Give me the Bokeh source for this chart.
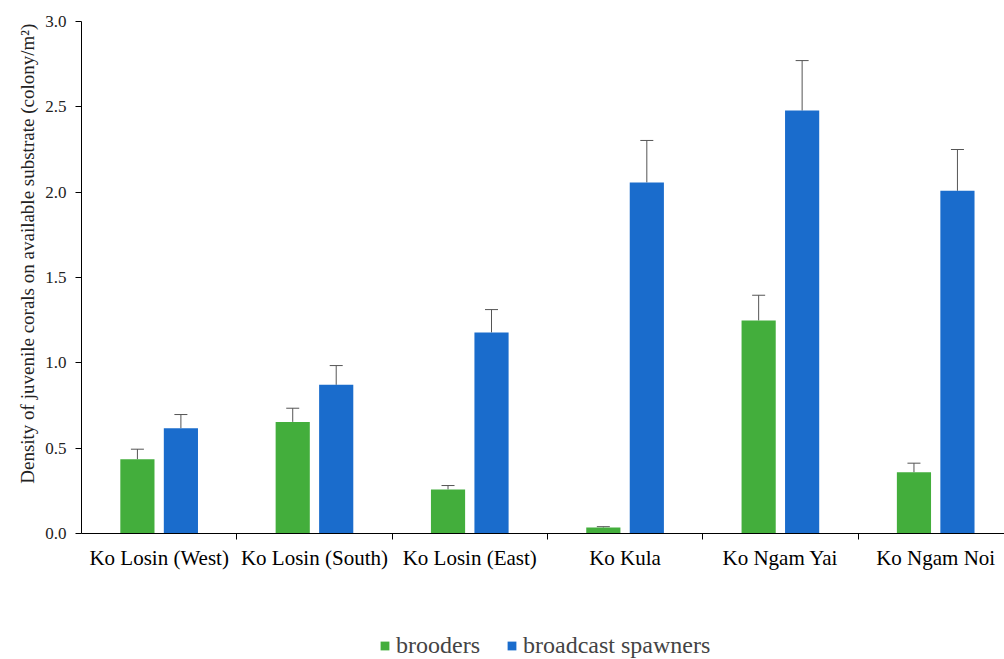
from bokeh.plotting import figure
from bokeh.models import (ColumnDataSource, Range1d, FixedTicker, Whisker, TeeHead, Legend,
                          LegendItem)
from bokeh.layouts import column
from bokeh.transform import dodge
from bokeh.embed import file_html
from bokeh.resources import INLINE

sites = ["Ko Losin (West)", "Ko Losin (South)", "Ko Losin (East)", "Ko Kula", "Ko Ngam Yai", "Ko Ngam Noi"]
brooders = [0.435, 0.654, 0.258, 0.035, 1.248, 0.359]
brooders_err = [0.059, 0.080, 0.023, 0.005, 0.148, 0.053]
spawners = [0.617, 0.871, 1.178, 2.057, 2.478, 2.008]
spawners_err = [0.080, 0.113, 0.134, 0.246, 0.293, 0.242]
series_names = ["brooders", "broadcast spawners"]
y_ticks = [0.0, 0.5, 1.0, 1.5, 2.0, 2.5, 3.0]

idx = list(range(len(sites)))
src = ColumnDataSource(dict(
    x=idx,
    b=brooders, bu=[v + e for v, e in zip(brooders, brooders_err)],
    s=spawners, su=[v + e for v, e in zip(spawners, spawners_err)],
))

FONT = "Liberation Serif"
GREEN = "#43AE3C"
BLUE = "#1A6CCC"

p = figure(width=1004, height=596, output_backend="svg", toolbar_location=None,
           x_range=Range1d(-0.5, 5.443), y_range=Range1d(0, 3.0),
           min_border_left=81, min_border_top=21, min_border_bottom=63, min_border_right=0)
p.outline_line_color = None
p.xgrid.visible = False
p.ygrid.visible = False
p.background_fill_color = "white"

W = 0.22
OFF = 0.14
rb = p.vbar(x=dodge("x", -OFF), top="b", width=W, bottom=0, source=src, fill_color=GREEN, line_color=None)
rs = p.vbar(x=dodge("x", OFF), top="s", width=W, bottom=0, source=src, fill_color=BLUE, line_color=None)

for col, colu, off in (("b", "bu", -OFF), ("s", "su", OFF)):
    w = Whisker(base=dodge("x", off), lower=col, upper=colu, source=src, dimension="height",
                line_color="#555555", line_width=1,
                upper_head=TeeHead(size=13, line_color="#555555", line_width=1), lower_head=None)
    p.add_layout(w)

# x axis
xa = p.xaxis[0]
xa.ticker = FixedTicker(ticks=idx, minor_ticks=[i + 0.5 for i in idx[:-1]])
xa.major_label_overrides = {i: s for i, s in zip(idx, sites)}
xa.major_tick_out = 0
xa.major_tick_in = 0
xa.minor_tick_out = 6
xa.minor_tick_in = 0
xa.minor_tick_line_color = "black"
xa.axis_line_color = "black"
xa.major_label_text_font = FONT
xa.major_label_text_font_size = "21px"
xa.major_label_text_color = "black"
xa.major_label_standoff = 6

ya = p.yaxis[0]
ya.ticker = FixedTicker(ticks=y_ticks)
ya.major_label_overrides = {t: f"{t:.1f}" for t in y_ticks}
ya.minor_tick_line_color = None
ya.major_tick_out = 6
ya.major_tick_in = 0
ya.axis_line_color = "black"
ya.major_tick_line_color = "black"
ya.major_label_text_font = FONT
ya.major_label_text_font_size = "17px"
ya.major_label_text_color = "#222222"
ya.major_label_standoff = 9
ya.axis_label = "\u00a0" * 10 + "Density of juvenile corals on available substrate (colony/m²)"
ya.axis_label_text_font = FONT
ya.axis_label_text_font_size = "19px"
ya.axis_label_text_font_style = "normal"
ya.axis_label_text_color = "#222222"
ya.axis_label_standoff = 4

# legend strip below the chart (its frame is aligned with the chart's frame)
lg = figure(width=1004, height=63, output_backend="svg", toolbar_location=None,
            x_range=Range1d(0, 1), y_range=Range1d(0, 1), x_axis_type=None, y_axis_type=None,
            min_border=0)
lg.outline_line_color = None
lg.xgrid.visible = False
lg.ygrid.visible = False
lb = lg.vbar(x=[-10], top=[-10], width=1, fill_color=GREEN, line_color=None)
ls = lg.vbar(x=[-10], top=[-10], width=1, fill_color=BLUE, line_color=None)
legend = Legend(items=[LegendItem(label=series_names[0], renderers=[lb]),
                       LegendItem(label=series_names[1], renderers=[ls])],
                orientation="horizontal", location=(298, 0),
                label_text_font=FONT, label_text_font_size="24px",
                glyph_width=11, glyph_height=11, spacing=26, label_standoff=6,
                background_fill_alpha=0, border_line_color=None, padding=0, margin=0)
lg.add_layout(legend, "center")

layout = column(p, lg, spacing=0)
open("out.html", "w").write(file_html(layout, INLINE))
